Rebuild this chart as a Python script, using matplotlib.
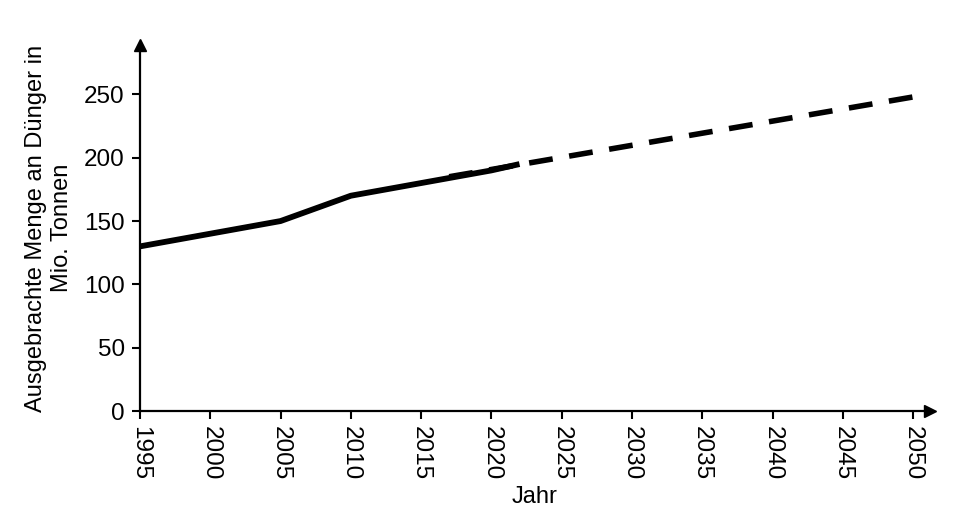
import matplotlib.pyplot as plt

plt.rcParams['font.family'] = ['Liberation Sans', 'DejaVu Sans']

# measured values (Mio. Tonnen)
years = [1995, 2005, 2010, 2015, 2020, 2022]
amount = [130, 150, 170, 180, 190, 195]

# projection
proj_years = [2017, 2050]
proj_amount = [185, 248]

xticks = list(range(1995, 2051, 5))
yticks = [0, 50, 100, 150, 200, 250]

fig = plt.figure(figsize=(9.6, 5.26), dpi=100)
ax = fig.add_axes([0.1458, 0.2186, 0.8229, 0.6958])

ax.plot(proj_years, proj_amount, color='black', lw=4.0, dashes=(4.3, 3.0), solid_capstyle='butt')
ax.plot(years, amount, color='black', lw=4.2, solid_capstyle='butt')

ax.set_xlim(1995, 2051.2)
ax.set_ylim(0, 289)
ax.set_xticks(xticks)
ax.set_yticks(yticks)
ax.set_xticklabels([str(t) for t in xticks], rotation=-90, fontsize=17.5)
ax.tick_params(axis='y', labelsize=17.5, length=6, width=1.5, pad=5)
ax.tick_params(axis='x', length=6, width=1.5, pad=5)

for s in ['top', 'right']:
    ax.spines[s].set_visible(False)
for s in ['left', 'bottom']:
    ax.spines[s].set_linewidth(1.6)

# arrow heads
ax.plot(1, 0, '>k', ms=9, transform=ax.transAxes, clip_on=False)
ax.plot(0, 1, '^k', ms=9, transform=ax.transAxes, clip_on=False)

ax.set_xlabel('Jahr', fontsize=17, labelpad=4)
ax.set_ylabel('Ausgebrachte Menge an Dünger in\nMio. Tonnen', fontsize=17, labelpad=8)

fig.savefig('out.png', dpi=100)
